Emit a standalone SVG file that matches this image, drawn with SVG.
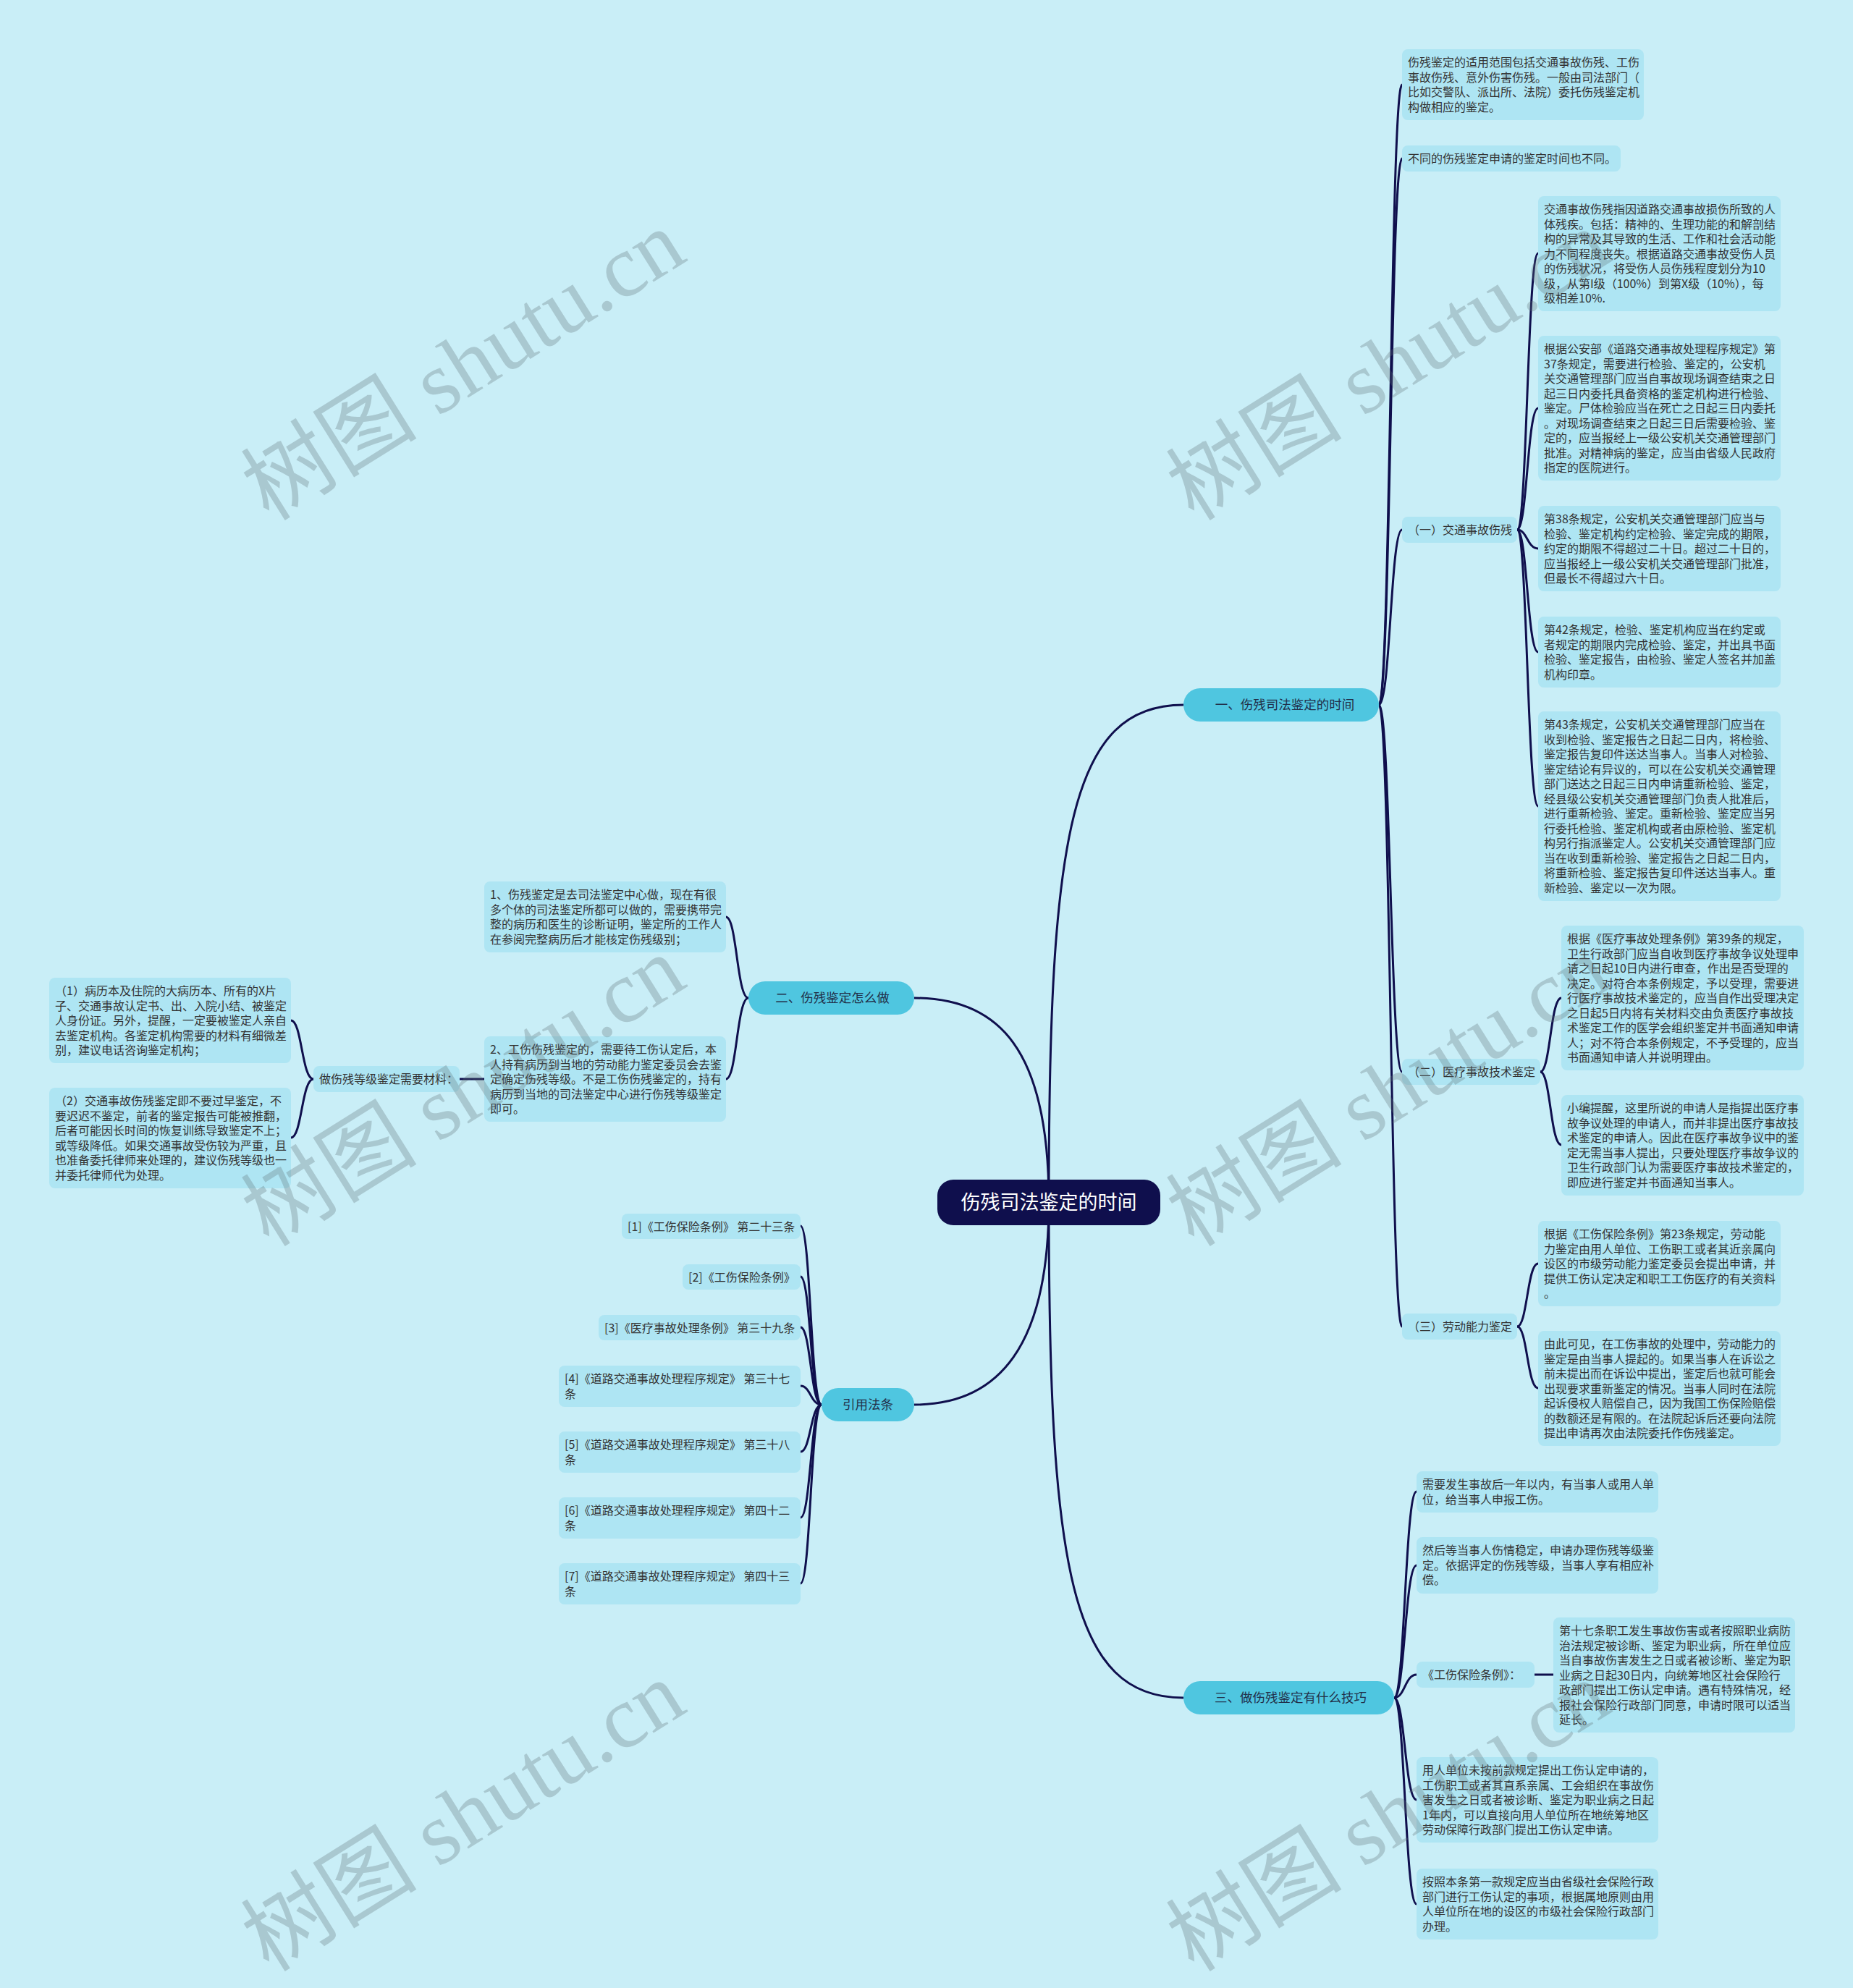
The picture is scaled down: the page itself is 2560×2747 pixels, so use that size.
<svg xmlns="http://www.w3.org/2000/svg" width="2560" height="2747" viewBox="0 0 2560 2747">
<defs>
<style>
.bg{fill:#c9eef7}
.bx{fill:#aee5f3}
.br{fill:#4fc6e0}
.t{font-family:"Noto Sans CJK SC","Noto Sans",sans-serif;font-size:16px;fill:#333333}
.bt{font-family:"Noto Sans CJK SC","Noto Sans",sans-serif;font-size:17.5px;fill:#22304a;text-anchor:middle}
.ct{font-family:"Noto Sans CJK SC","Noto Sans",sans-serif;font-size:27px;fill:#ffffff;text-anchor:middle}
.ln{fill:none;stroke:#0f0f4d;stroke-width:3}
.wm{font-family:"Liberation Serif","Noto Sans CJK SC",serif;font-size:122px;fill:#5f6f78;fill-opacity:0.3;text-anchor:middle}
</style>
</defs>
<rect class="bg" x="0" y="0" width="2560" height="2747"/>

<g id="connectors">
<path class="ln" d="M1449 1661 C1449 1150 1480 974 1635 974"/>
<path class="ln" d="M1449 1661 C1449 1450 1380 1379 1263 1379"/>
<path class="ln" d="M1449 1661 C1449 1860 1380 1941 1263 1941"/>
<path class="ln" d="M1449 1661 C1449 2170 1480 2346 1635 2346"/>
<path class="ln" d="M1905 974 C1921 974 1921 117 1937 117"/>
<path class="ln" d="M1905 974 C1921 974 1921 219 1937 219"/>
<path class="ln" d="M1905 974 C1921 974 1921 732 1937 732"/>
<path class="ln" d="M1905 974 C1921 974 1921 1481 1937 1481"/>
<path class="ln" d="M1905 974 C1921 974 1921 1833 1937 1833"/>
<path class="ln" d="M2096 732 C2110 732 2110 350 2125 350"/>
<path class="ln" d="M2096 732 C2110 732 2110 564 2125 564"/>
<path class="ln" d="M2096 732 C2110 732 2110 758 2125 758"/>
<path class="ln" d="M2096 732 C2110 732 2110 901 2125 901"/>
<path class="ln" d="M2096 732 C2110 732 2110 1114 2125 1114"/>
<path class="ln" d="M2128 1481 C2142 1481 2142 1379 2157 1379"/>
<path class="ln" d="M2128 1481 C2142 1481 2142 1582 2157 1582"/>
<path class="ln" d="M2096 1833 C2110 1833 2110 1746 2125 1746"/>
<path class="ln" d="M2096 1833 C2110 1833 2110 1918 2125 1918"/>
<path class="ln" d="M1926 2346 C1941 2346 1941 2061 1957 2061"/>
<path class="ln" d="M1926 2346 C1941 2346 1941 2163 1957 2163"/>
<path class="ln" d="M1926 2346 C1941 2346 1941 2314 1957 2314"/>
<path class="ln" d="M1926 2346 C1941 2346 1941 2487 1957 2487"/>
<path class="ln" d="M1926 2346 C1941 2346 1941 2631 1957 2631"/>
<path class="ln" d="M2120 2314 L2146 2314"/>
<path class="ln" d="M1034 1379 C1018 1379 1018 1267 1003 1267"/>
<path class="ln" d="M1034 1379 C1018 1379 1018 1491 1003 1491"/>
<path class="ln" d="M669 1491 L635 1491"/>
<path class="ln" d="M433 1491 C417 1491 417 1410 402 1410"/>
<path class="ln" d="M433 1491 C417 1491 417 1572 402 1572"/>
<path class="ln" d="M1135 1941 C1120 1941 1120 1694 1106 1694"/>
<path class="ln" d="M1135 1941 C1120 1941 1120 1764 1106 1764"/>
<path class="ln" d="M1135 1941 C1120 1941 1120 1834 1106 1834"/>
<path class="ln" d="M1135 1941 C1120 1941 1120 1915 1106 1915"/>
<path class="ln" d="M1135 1941 C1120 1941 1120 2006 1106 2006"/>
<path class="ln" d="M1135 1941 C1120 1941 1120 2097 1106 2097"/>
<path class="ln" d="M1135 1941 C1120 1941 1120 2188 1106 2188"/>
</g>

<g id="center">
<rect x="1295" y="1630" width="308" height="63" rx="22" fill="#0f0f4d"/>
<text class="ct" x="1449" y="1671">伤残司法鉴定的时间</text>
</g>

<g id="branch1">
<rect class="br" x="1635" y="951" width="270" height="46" rx="23"/>
<text class="bt" x="1775" y="980">一、伤残司法鉴定的时间</text>
</g>
<g id="branch2">
<rect class="br" x="1034" y="1356" width="229" height="46" rx="23"/>
<text class="bt" x="1150" y="1385">二、伤残鉴定怎么做</text>
</g>
<g id="branch-ref">
<rect class="br" x="1135" y="1918" width="128" height="46" rx="23"/>
<text class="bt" x="1199" y="1947">引用法条</text>
</g>
<g id="branch3">
<rect class="br" x="1635" y="2323" width="291" height="46" rx="23"/>
<text class="bt" x="1783" y="2352">三、做伤残鉴定有什么技巧</text>
</g>

<g id="a1">
<rect class="bx" x="1937" y="68" width="334" height="98" rx="8"/>
<text class="t"><tspan x="1945" y="92.25">伤残鉴定的适用范围包括交通事故伤残、工伤</tspan><tspan x="1945" y="112.75">事故伤残、意外伤害伤残。一般由司法部门（</tspan><tspan x="1945" y="133.25">比如交警队、派出所、法院）委托伤残鉴定机</tspan><tspan x="1945" y="153.75">构做相应的鉴定。</tspan></text>
</g>
<g id="a2">
<rect class="bx" x="1937" y="201" width="302" height="36" rx="8"/>
<text class="t" x="1945" y="225">不同的伤残鉴定申请的鉴定时间也不同。</text>
</g>

<g id="n1">
<rect class="bx" x="1937" y="714" width="159" height="36" rx="8"/>
<text class="t" x="1945" y="738">（一）交通事故伤残</text>
</g>
<g id="b1">
<rect class="bx" x="2125" y="271" width="335" height="159" rx="8"/>
<text class="t"><tspan x="2133" y="295.25">交通事故伤残指因道路交通事故损伤所致的人</tspan><tspan x="2133" y="315.75">体残疾。包括：精神的、生理功能的和解剖结</tspan><tspan x="2133" y="336.25">构的异常及其导致的生活、工作和社会活动能</tspan><tspan x="2133" y="356.75">力不同程度丧失。根据道路交通事故受伤人员</tspan><tspan x="2133" y="377.25">的伤残状况，将受伤人员伤残程度划分为10</tspan><tspan x="2133" y="397.75">级，从第I级（100%）到第X级（10%），每</tspan><tspan x="2133" y="418.25">级相差10%.</tspan></text>
</g>
<g id="b2">
<rect class="bx" x="2125" y="464" width="335" height="200" rx="8"/>
<text class="t"><tspan x="2133" y="488.25">根据公安部《道路交通事故处理程序规定》第</tspan><tspan x="2133" y="508.75">37条规定，需要进行检验、鉴定的，公安机</tspan><tspan x="2133" y="529.25">关交通管理部门应当自事故现场调查结束之日</tspan><tspan x="2133" y="549.75">起三日内委托具备资格的鉴定机构进行检验、</tspan><tspan x="2133" y="570.25">鉴定。尸体检验应当在死亡之日起三日内委托</tspan><tspan x="2133" y="590.75">。对现场调查结束之日起三日后需要检验、鉴</tspan><tspan x="2133" y="611.25">定的，应当报经上一级公安机关交通管理部门</tspan><tspan x="2133" y="631.75">批准。对精神病的鉴定，应当由省级人民政府</tspan><tspan x="2133" y="652.25">指定的医院进行。</tspan></text>
</g>
<g id="b3">
<rect class="bx" x="2125" y="699" width="335" height="118" rx="8"/>
<text class="t"><tspan x="2133" y="723.25">第38条规定，公安机关交通管理部门应当与</tspan><tspan x="2133" y="743.75">检验、鉴定机构约定检验、鉴定完成的期限，</tspan><tspan x="2133" y="764.25">约定的期限不得超过二十日。超过二十日的，</tspan><tspan x="2133" y="784.75">应当报经上一级公安机关交通管理部门批准，</tspan><tspan x="2133" y="805.25">但最长不得超过六十日。</tspan></text>
</g>
<g id="b4">
<rect class="bx" x="2125" y="852" width="335" height="98" rx="8"/>
<text class="t"><tspan x="2133" y="876.25">第42条规定，检验、鉴定机构应当在约定或</tspan><tspan x="2133" y="896.75">者规定的期限内完成检验、鉴定，并出具书面</tspan><tspan x="2133" y="917.25">检验、鉴定报告，由检验、鉴定人签名并加盖</tspan><tspan x="2133" y="937.75">机构印章。</tspan></text>
</g>
<g id="b5">
<rect class="bx" x="2125" y="983" width="335" height="262" rx="8"/>
<text class="t"><tspan x="2133" y="1007.25">第43条规定，公安机关交通管理部门应当在</tspan><tspan x="2133" y="1027.75">收到检验、鉴定报告之日起二日内，将检验、</tspan><tspan x="2133" y="1048.25">鉴定报告复印件送达当事人。当事人对检验、</tspan><tspan x="2133" y="1068.75">鉴定结论有异议的，可以在公安机关交通管理</tspan><tspan x="2133" y="1089.25">部门送达之日起三日内申请重新检验、鉴定，</tspan><tspan x="2133" y="1109.75">经县级公安机关交通管理部门负责人批准后，</tspan><tspan x="2133" y="1130.25">进行重新检验、鉴定。重新检验、鉴定应当另</tspan><tspan x="2133" y="1150.75">行委托检验、鉴定机构或者由原检验、鉴定机</tspan><tspan x="2133" y="1171.25">构另行指派鉴定人。公安机关交通管理部门应</tspan><tspan x="2133" y="1191.75">当在收到重新检验、鉴定报告之日起二日内，</tspan><tspan x="2133" y="1212.25">将重新检验、鉴定报告复印件送达当事人。重</tspan><tspan x="2133" y="1232.75">新检验、鉴定以一次为限。</tspan></text>
</g>

<g id="n2">
<rect class="bx" x="1937" y="1463" width="191" height="36" rx="8"/>
<text class="t" x="1945" y="1487">（二）医疗事故技术鉴定</text>
</g>
<g id="c1">
<rect class="bx" x="2157" y="1279" width="335" height="200" rx="8"/>
<text class="t"><tspan x="2165" y="1303.25">根据《医疗事故处理条例》第39条的规定，</tspan><tspan x="2165" y="1323.75">卫生行政部门应当自收到医疗事故争议处理申</tspan><tspan x="2165" y="1344.25">请之日起10日内进行审查，作出是否受理的</tspan><tspan x="2165" y="1364.75">决定。对符合本条例规定，予以受理，需要进</tspan><tspan x="2165" y="1385.25">行医疗事故技术鉴定的，应当自作出受理决定</tspan><tspan x="2165" y="1405.75">之日起5日内将有关材料交由负责医疗事故技</tspan><tspan x="2165" y="1426.25">术鉴定工作的医学会组织鉴定并书面通知申请</tspan><tspan x="2165" y="1446.75">人；对不符合本条例规定，不予受理的，应当</tspan><tspan x="2165" y="1467.25">书面通知申请人并说明理由。</tspan></text>
</g>
<g id="c2">
<rect class="bx" x="2157" y="1513" width="335" height="139" rx="8"/>
<text class="t"><tspan x="2165" y="1537.25">小编提醒，这里所说的申请人是指提出医疗事</tspan><tspan x="2165" y="1557.75">故争议处理的申请人，而并非提出医疗事故技</tspan><tspan x="2165" y="1578.25">术鉴定的申请人。因此在医疗事故争议中的鉴</tspan><tspan x="2165" y="1598.75">定无需当事人提出，只要处理医疗事故争议的</tspan><tspan x="2165" y="1619.25">卫生行政部门认为需要医疗事故技术鉴定的，</tspan><tspan x="2165" y="1639.75">即应进行鉴定并书面通知当事人。</tspan></text>
</g>

<g id="n3">
<rect class="bx" x="1937" y="1815" width="159" height="36" rx="8"/>
<text class="t" x="1945" y="1839">（三）劳动能力鉴定</text>
</g>
<g id="d1">
<rect class="bx" x="2125" y="1687" width="335" height="118" rx="8"/>
<text class="t"><tspan x="2133" y="1711.25">根据《工伤保险条例》第23条规定，劳动能</tspan><tspan x="2133" y="1731.75">力鉴定由用人单位、工伤职工或者其近亲属向</tspan><tspan x="2133" y="1752.25">设区的市级劳动能力鉴定委员会提出申请，并</tspan><tspan x="2133" y="1772.75">提供工伤认定决定和职工工伤医疗的有关资料</tspan><tspan x="2133" y="1793.25">。</tspan></text>
</g>
<g id="d2">
<rect class="bx" x="2125" y="1839" width="335" height="159" rx="8"/>
<text class="t"><tspan x="2133" y="1863.25">由此可见，在工伤事故的处理中，劳动能力的</tspan><tspan x="2133" y="1883.75">鉴定是由当事人提起的。如果当事人在诉讼之</tspan><tspan x="2133" y="1904.25">前未提出而在诉讼中提出，鉴定后也就可能会</tspan><tspan x="2133" y="1924.75">出现要求重新鉴定的情况。当事人同时在法院</tspan><tspan x="2133" y="1945.25">起诉侵权人赔偿自己，因为我国工伤保险赔偿</tspan><tspan x="2133" y="1965.75">的数额还是有限的。在法院起诉后还要向法院</tspan><tspan x="2133" y="1986.25">提出申请再次由法院委托作伤残鉴定。</tspan></text>
</g>

<g id="e1">
<rect class="bx" x="1957" y="2033" width="334" height="57" rx="8"/>
<text class="t"><tspan x="1965" y="2057.25">需要发生事故后一年以内，有当事人或用人单</tspan><tspan x="1965" y="2077.75">位，给当事人申报工伤。</tspan></text>
</g>
<g id="e2">
<rect class="bx" x="1957" y="2124" width="334" height="78" rx="8"/>
<text class="t"><tspan x="1965" y="2148.25">然后等当事人伤情稳定，申请办理伤残等级鉴</tspan><tspan x="1965" y="2168.75">定。依据评定的伤残等级，当事人享有相应补</tspan><tspan x="1965" y="2189.25">偿。</tspan></text>
</g>
<g id="n4">
<rect class="bx" x="1957" y="2296" width="163" height="36" rx="8"/>
<text class="t" x="1965" y="2320">《工伤保险条例》：</text>
</g>
<g id="f1">
<rect class="bx" x="2146" y="2235" width="334" height="159" rx="8"/>
<text class="t"><tspan x="2154" y="2259.25">第十七条职工发生事故伤害或者按照职业病防</tspan><tspan x="2154" y="2279.75">治法规定被诊断、鉴定为职业病，所在单位应</tspan><tspan x="2154" y="2300.25">当自事故伤害发生之日或者被诊断、鉴定为职</tspan><tspan x="2154" y="2320.75">业病之日起30日内，向统筹地区社会保险行</tspan><tspan x="2154" y="2341.25">政部门提出工伤认定申请。遇有特殊情况，经</tspan><tspan x="2154" y="2361.75">报社会保险行政部门同意，申请时限可以适当</tspan><tspan x="2154" y="2382.25">延长。</tspan></text>
</g>
<g id="e3">
<rect class="bx" x="1957" y="2428" width="334" height="118" rx="8"/>
<text class="t"><tspan x="1965" y="2452.25">用人单位未按前款规定提出工伤认定申请的，</tspan><tspan x="1965" y="2472.75">工伤职工或者其直系亲属、工会组织在事故伤</tspan><tspan x="1965" y="2493.25">害发生之日或者被诊断、鉴定为职业病之日起</tspan><tspan x="1965" y="2513.75">1年内，可以直接向用人单位所在地统筹地区</tspan><tspan x="1965" y="2534.25">劳动保障行政部门提出工伤认定申请。</tspan></text>
</g>
<g id="e4">
<rect class="bx" x="1957" y="2582" width="334" height="98" rx="8"/>
<text class="t"><tspan x="1965" y="2606.25">按照本条第一款规定应当由省级社会保险行政</tspan><tspan x="1965" y="2626.75">部门进行工伤认定的事项，根据属地原则由用</tspan><tspan x="1965" y="2647.25">人单位所在地的设区的市级社会保险行政部门</tspan><tspan x="1965" y="2667.75">办理。</tspan></text>
</g>

<g id="g1">
<rect class="bx" x="669" y="1218" width="334" height="98" rx="8"/>
<text class="t"><tspan x="677" y="1242.25">1、伤残鉴定是去司法鉴定中心做，现在有很</tspan><tspan x="677" y="1262.75">多个体的司法鉴定所都可以做的，需要携带完</tspan><tspan x="677" y="1283.25">整的病历和医生的诊断证明，鉴定所的工作人</tspan><tspan x="677" y="1303.75">在参阅完整病历后才能核定伤残级别；</tspan></text>
</g>
<g id="g2">
<rect class="bx" x="669" y="1432" width="334" height="118" rx="8"/>
<text class="t"><tspan x="677" y="1456.25">2、工伤伤残鉴定的，需要待工伤认定后，本</tspan><tspan x="677" y="1476.75">人持有病历到当地的劳动能力鉴定委员会去鉴</tspan><tspan x="677" y="1497.25">定确定伤残等级。不是工伤伤残鉴定的，持有</tspan><tspan x="677" y="1517.75">病历到当地的司法鉴定中心进行伤残等级鉴定</tspan><tspan x="677" y="1538.25">即可。</tspan></text>
</g>
<g id="n5">
<rect class="bx" x="433" y="1473" width="202" height="36" rx="8"/>
<text class="t" x="441" y="1497">做伤残等级鉴定需要材料：</text>
</g>
<g id="h1">
<rect class="bx" x="68" y="1351" width="334" height="118" rx="8"/>
<text class="t"><tspan x="76" y="1375.25">（1）病历本及住院的大病历本、所有的X片</tspan><tspan x="76" y="1395.75">子、交通事故认定书、出、入院小结、被鉴定</tspan><tspan x="76" y="1416.25">人身份证。另外，提醒，一定要被鉴定人亲自</tspan><tspan x="76" y="1436.75">去鉴定机构。各鉴定机构需要的材料有细微差</tspan><tspan x="76" y="1457.25">别，建议电话咨询鉴定机构；</tspan></text>
</g>
<g id="h2">
<rect class="bx" x="68" y="1503" width="334" height="139" rx="8"/>
<text class="t"><tspan x="76" y="1527.25">（2）交通事故伤残鉴定即不要过早鉴定，不</tspan><tspan x="76" y="1547.75">要迟迟不鉴定，前者的鉴定报告可能被推翻，</tspan><tspan x="76" y="1568.25">后者可能因长时间的恢复训练导致鉴定不上；</tspan><tspan x="76" y="1588.75">或等级降低。如果交通事故受伤较为严重，且</tspan><tspan x="76" y="1609.25">也准备委托律师来处理的，建议伤残等级也一</tspan><tspan x="76" y="1629.75">并委托律师代为处理。</tspan></text>
</g>

<g id="r1">
<rect class="bx" x="859" y="1677" width="247" height="35" rx="8"/>
<text class="t" x="867" y="1700.5">[1]《工伤保险条例》 第二十三条</text>
</g>
<g id="r2">
<rect class="bx" x="943" y="1747" width="163" height="35" rx="8"/>
<text class="t" x="951" y="1770.5">[2]《工伤保险条例》</text>
</g>
<g id="r3">
<rect class="bx" x="827" y="1817" width="279" height="35" rx="8"/>
<text class="t" x="835" y="1840.5">[3]《医疗事故处理条例》 第三十九条</text>
</g>
<g id="r4">
<rect class="bx" x="772" y="1887" width="334" height="57" rx="8"/>
<text class="t"><tspan x="780" y="1911.25">[4]《道路交通事故处理程序规定》 第三十七</tspan><tspan x="780" y="1931.75">条</tspan></text>
</g>
<g id="r5">
<rect class="bx" x="772" y="1978" width="334" height="57" rx="8"/>
<text class="t"><tspan x="780" y="2002.25">[5]《道路交通事故处理程序规定》 第三十八</tspan><tspan x="780" y="2022.75">条</tspan></text>
</g>
<g id="r6">
<rect class="bx" x="772" y="2069" width="334" height="57" rx="8"/>
<text class="t"><tspan x="780" y="2093.25">[6]《道路交通事故处理程序规定》 第四十二</tspan><tspan x="780" y="2113.75">条</tspan></text>
</g>
<g id="r7">
<rect class="bx" x="772" y="2160" width="334" height="57" rx="8"/>
<text class="t"><tspan x="780" y="2184.25">[7]《道路交通事故处理程序规定》 第四十三</tspan><tspan x="780" y="2204.75">条</tspan></text>
</g>

<g id="watermarks">
<text class="wm" transform="translate(662 540) rotate(-32)">树图 shutu.cn</text>
<text class="wm" transform="translate(1940 540) rotate(-32)">树图 shutu.cn</text>
<text class="wm" transform="translate(662 1543) rotate(-32)">树图 shutu.cn</text>
<text class="wm" transform="translate(1940 1543) rotate(-32)">树图 shutu.cn</text>
<text class="wm" transform="translate(662 2545) rotate(-32)">树图 shutu.cn</text>
<text class="wm" transform="translate(1940 2545) rotate(-32)">树图 shutu.cn</text>
</g>
</svg>
